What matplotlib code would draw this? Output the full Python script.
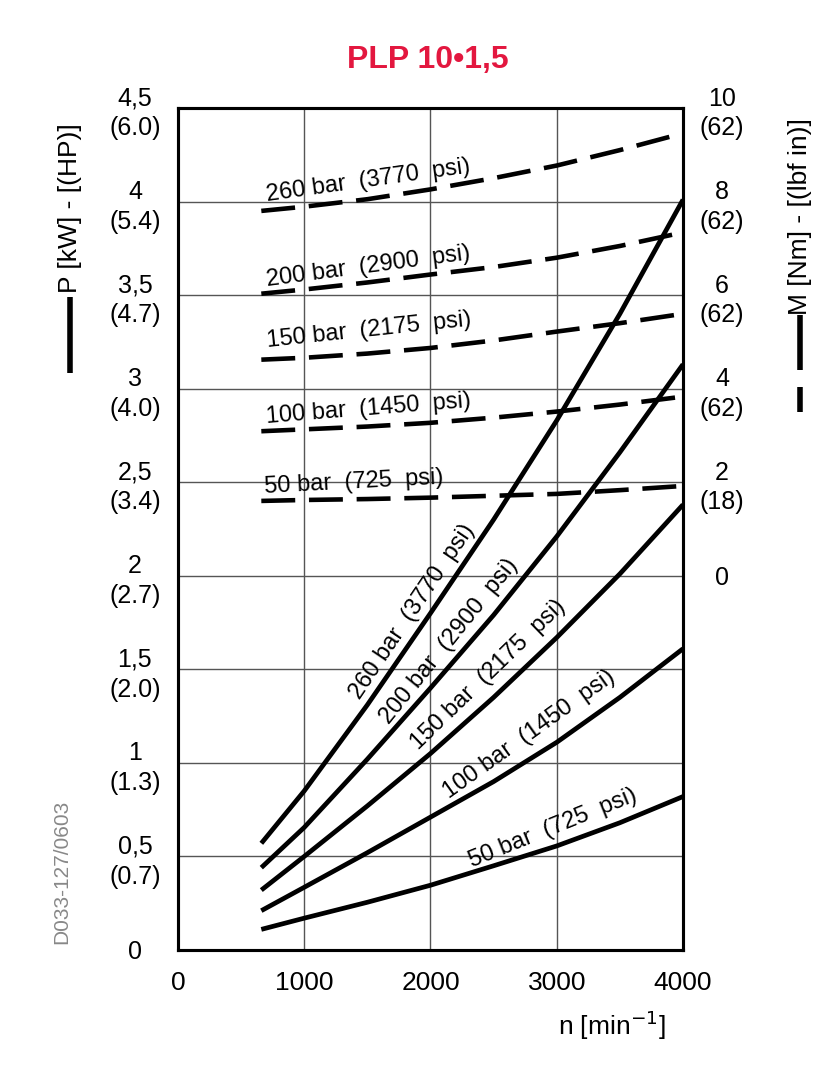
import matplotlib
matplotlib.use("Agg")
import matplotlib.pyplot as plt
from matplotlib.lines import Line2D

plt.rcParams['font.family'] = ['Liberation Sans', 'DejaVu Sans']

# speed axis [min-1]
rpm = [660, 1000, 1500, 2000, 2500, 3000, 3500, 4000]

# power curves P [kW] (solid)
power = {
    '260 bar  (3770  psi)': [0.57, 0.85, 1.31, 1.80, 2.30, 2.83, 3.40, 4.01],
    '200 bar  (2900  psi)': [0.44, 0.655, 1.02, 1.40, 1.79, 2.21, 2.66, 3.13],
    '150 bar  (2175  psi)': [0.32, 0.50, 0.77, 1.05, 1.35, 1.67, 2.01, 2.38],
    '100 bar  (1450  psi)': [0.21, 0.335, 0.52, 0.71, 0.90, 1.11, 1.35, 1.61],
    '50 bar  (725  psi)':   [0.11, 0.17, 0.255, 0.346, 0.45, 0.556, 0.68, 0.82],
}

# torque curves M [Nm] (dashed, right axis)
torque = {
    '260 bar  (3770  psi)': [7.80, 7.89, 8.05, 8.26, 8.50, 8.77, 9.10, 9.46],
    '200 bar  (2900  psi)': [6.03, 6.12, 6.27, 6.44, 6.60, 6.80, 7.05, 7.34],
    '150 bar  (2175  psi)': [4.62, 4.66, 4.75, 4.87, 5.03, 5.22, 5.40, 5.60],
    '100 bar  (1450  psi)': [3.09, 3.13, 3.19, 3.27, 3.38, 3.51, 3.66, 3.83],
    '50 bar  (725  psi)':   [1.60, 1.62, 1.64, 1.67, 1.71, 1.75, 1.83, 1.92],
}

# caption positions (rpm, kW, angle)
solid_lbl = {
    '260 bar  (3770  psi)': (1853, 1.81, 56),
    '200 bar  (2900  psi)': (2147, 1.65, 51),
    '150 bar  (2175  psi)': (2458, 1.47, 44),
    '100 bar  (1450  psi)': (2780, 1.15, 35.5),
    '50 bar  (725  psi)':   (2973, 0.65, 22),
}
dashed_lbl = {
    '260 bar  (3770  psi)': (1505, 4.11, 8),
    '200 bar  (2900  psi)': (1505, 3.65, 7.5),
    '150 bar  (2175  psi)': (1510, 3.31, 6),
    '100 bar  (1450  psi)': (1510, 2.89, 4.5),
    '50 bar  (725  psi)':   (1390, 2.50, 3),
}

p_ticks = [0, 0.5, 1, 1.5, 2, 2.5, 3, 3.5, 4, 4.5]
p_labels = ['0', '0,5\n(0.7)', '1\n(1.3)', '1,5\n(2.0)', '2\n(2.7)', '2,5\n(3.4)',
            '3\n(4.0)', '3,5\n(4.7)', '4\n(5.4)', '4,5\n(6.0)']
m_ticks = [0, 2, 4, 6, 8, 10]
m_labels = ['0', '2\n(18)', '4\n(62)', '6\n(62)', '8\n(62)', '10\n(62)']
n_ticks = [0, 1000, 2000, 3000, 4000]

fig = plt.figure(figsize=(8.36, 10.8), dpi=100)
ax = fig.add_axes([0.2129, 0.1204, 0.6041, 0.7796])
ax.set_xlim(0, 4000)
ax.set_ylim(0, 4.5)
ax2 = ax.twinx()
ax2.set_ylim(-8, 10)

for name, vals in power.items():
    ax.plot(rpm, vals, color='black', lw=3.4, solid_capstyle='butt')
    x, y, a = solid_lbl[name]
    ax.text(x, y, name, rotation=a, rotation_mode='anchor', ha='center', va='center', fontsize=17)

for name, vals in torque.items():
    ax2.plot(rpm, vals, color='black', lw=3.3, dashes=(7.4, 3.0), dash_capstyle='butt')
    x, y, a = dashed_lbl[name]
    ax.text(x, y, name, rotation=a, rotation_mode='anchor', ha='center', va='center', fontsize=17)

ax.set_xticks(n_ticks)
ax.set_xticklabels([str(v) for v in n_ticks])
ax.set_yticks(p_ticks)
ax.set_yticklabels(p_labels)
ax.tick_params(axis='y', length=0, pad=31, labelsize=18)
ax.tick_params(axis='x', length=0, pad=15, labelsize=19)
ax2.set_yticks(m_ticks)
ax2.set_yticklabels(m_labels)
ax2.tick_params(axis='y', length=0, pad=28, labelsize=18)
for lbl in ax.get_yticklabels() + ax2.get_yticklabels():
    lbl.set_horizontalalignment('center')
    lbl.set_multialignment('center')
    lbl.set_linespacing(1.3)

ax.grid(True, color='#555555', lw=1.0)
for a_ in (ax, ax2):
    for s in a_.spines.values():
        s.set_linewidth(2.2)

fig.text(0.512, 0.944, 'PLP 10\u20221,5', color='#e3173f', fontsize=23, fontweight='bold',
         ha='center', va='center')
fig.text(0.732, 0.051, 'n [min$^{-1}$]', fontsize=19, ha='center', va='center')

# axis titles with line-style swatches
fig.text(0.0837, 0.8074, 'P [kW] - [(HP)]', rotation=90, fontsize=19, ha='center', va='center')
fig.add_artist(Line2D([0.0837, 0.0837], [0.6546, 0.725], color='black', lw=4, solid_capstyle='butt'))
fig.text(0.957, 0.7995, 'M [Nm] - [(lbf in)]', rotation=90, fontsize=19, ha='center', va='center')
fig.add_artist(Line2D([0.957, 0.957], [0.6574, 0.7083], color='black', lw=4, solid_capstyle='butt'))
fig.add_artist(Line2D([0.957, 0.957], [0.6185, 0.6417], color='black', lw=4, solid_capstyle='butt'))

fig.text(0.074, 0.1926, 'D033-127/0603', rotation=90, fontsize=15, color='#888888',
         ha='center', va='center')

fig.savefig('out.png', dpi=100)
